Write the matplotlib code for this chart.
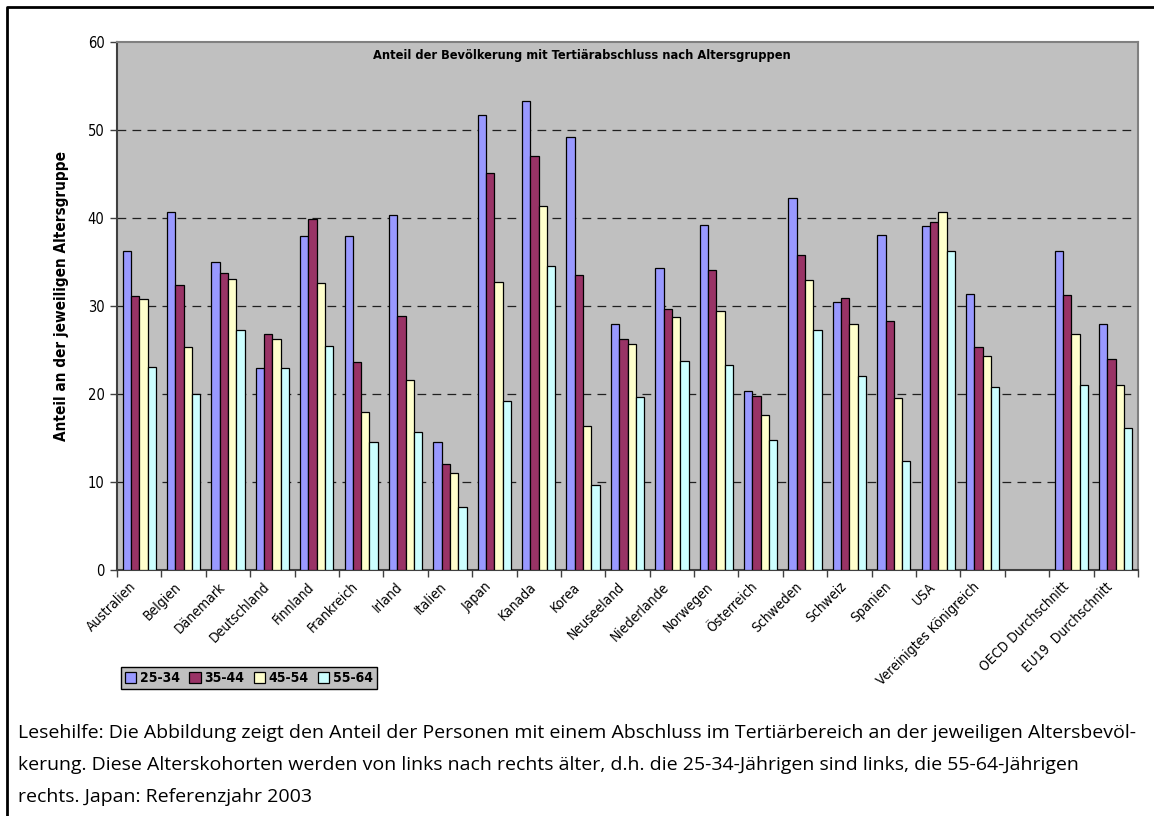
import matplotlib
matplotlib.use("Agg")
import matplotlib.pyplot as plt
import numpy as np
from matplotlib.transforms import ScaledTranslation
from matplotlib.lines import Line2D

# data
countries = ["Australien", "Belgien", "Dänemark", "Deutschland", "Finnland",
             "Frankreich", "Irland", "Italien", "Japan", "Kanada", "Korea",
             "Neuseeland", "Niederlande", "Norwegen", "Österreich", "Schweden",
             "Schweiz", "Spanien", "USA", "Vereinigtes Königreich",
             "OECD Durchschnitt", "EU19  Durchschnitt"]
slots = list(range(20)) + [21, 22]   # slot 20 stays empty
age_groups = ["25-34", "35-44", "45-54", "55-64"]

g25_34 = [36.2, 40.7, 35.0, 23.0, 38.0, 38.0, 40.3, 14.6, 51.7, 53.3, 49.2,
          28.0, 34.3, 39.2, 20.3, 42.3, 30.5, 38.1, 39.1, 31.4, 36.2, 28.0]
g35_44 = [31.1, 32.4, 33.8, 26.8, 39.9, 23.6, 28.9, 12.0, 45.1, 47.0, 33.5,
          26.2, 29.7, 34.1, 19.8, 35.8, 30.9, 28.3, 39.5, 25.3, 31.2, 24.0]
g45_54 = [30.8, 25.3, 33.1, 26.3, 32.6, 17.9, 21.6, 11.0, 32.7, 41.4, 16.4,
          25.7, 28.7, 29.4, 17.6, 33.0, 27.9, 19.5, 40.7, 24.3, 26.8, 21.0]
g55_64 = [23.1, 20.0, 27.3, 22.9, 25.4, 14.5, 15.7, 7.2, 19.2, 34.6, 9.7,
          19.7, 23.7, 23.3, 14.8, 27.3, 22.1, 12.4, 36.2, 20.8, 21.0, 16.1]
series = [g25_34, g35_44, g45_54, g55_64]
colors = ["#9999FF", "#993366", "#FFFFCC", "#CCFFFF"]

title = "Anteil der Bevölkerung mit Tertiärabschluss nach Altersgruppen"
ylabel = "Anteil an der jeweiligen Altersgruppe"
note_lines = [
    "Lesehilfe: Die Abbildung zeigt den Anteil der Personen mit einem Abschluss im Tertiärbereich an der jeweiligen Altersbevöl-",
    "kerung. Diese Alterskohorten werden von links nach rechts älter, d.h. die 25-34-Jährigen sind links, die 55-64-Jährigen",
    "rechts. Japan: Referenzjahr 2003",
]

narrow = ["Liberation Sans Narrow", "DejaVu Sans"]
W, H = 1154, 816
fig = plt.figure(figsize=(W / 100, H / 100), dpi=100)
ax = fig.add_axes([117 / W, 246 / H, 1021 / W, 528 / H])
ax.set_facecolor("#C0C0C0")

bw = 0.1875
x = np.array(slots) + 0.5
for k, (vals, col) in enumerate(zip(series, colors)):
    ax.bar(x + (k - 1.5) * bw, vals, width=bw, color=col, edgecolor="black",
           linewidth=0.9, zorder=3, label=age_groups[k])

for yv in range(10, 60, 10):
    ax.axhline(yv, color="#202020", lw=0.9, ls=(0, (7, 5)), zorder=1)

ax.set_xlim(0, 23)
ax.set_ylim(0, 60)
ax.set_yticks(range(0, 61, 10))
ax.tick_params(axis="y", direction="out", length=5, width=1, colors="#404040",
               labelcolor="black", labelsize=10.5, pad=4)
for t in ax.get_yticklabels():
    t.set_family(narrow)
    t.set_stretch("condensed")

ax.set_xticks(np.arange(0, 24), minor=True)
ax.set_xticks(x)
ax.set_xticklabels(countries, rotation=45, ha="right", va="top",
                   rotation_mode="anchor", fontsize=10, family=narrow,
                   fontstretch="condensed")
ax.tick_params(axis="x", which="major", length=0, pad=7)
ax.tick_params(axis="x", which="minor", direction="out", length=5, width=1,
               colors="#404040")
shift = ScaledTranslation(-10 / 100, 0, fig.dpi_scale_trans)
for t in ax.get_xticklabels():
    t.set_transform(t.get_transform() + shift)

for s in ["top", "right"]:
    ax.spines[s].set_color("#808080")
    ax.spines[s].set_linewidth(1.5)
for s in ["left", "bottom"]:
    ax.spines[s].set_color("#404040")
    ax.spines[s].set_linewidth(1.5)

fig.text(582 / W, 1 - 55 / H, title, ha="center", va="center",
         fontsize=9.2, fontweight="bold", family=narrow, fontstretch="condensed")
fig.text(62 / W, 1 - 296 / H, ylabel, rotation=90, ha="center", va="center",
         fontsize=11, fontweight="bold", family=narrow, fontstretch="condensed")

leg = fig.legend(loc="upper left", bbox_to_anchor=(121 / W, 1 - 667 / H),
                 ncol=4, frameon=True, fancybox=False, borderaxespad=0,
                 handlelength=0.8, handleheight=0.8, handletextpad=0.25,
                 columnspacing=0.7, borderpad=0.3,
                 prop={"family": narrow, "weight": "bold", "size": 10,
                       "stretch": "condensed"})
leg.get_frame().set_facecolor("#C0C0C0")
leg.get_frame().set_edgecolor("black")
leg.get_frame().set_linewidth(1.0)
leg.get_frame().set_alpha(1)

note_y = [738, 770, 802]
for line, yy in zip(note_lines, note_y):
    fig.text(18 / W, 1 - yy / H, line, ha="left", va="baseline",
             fontsize=14, family=["Open Sans", "DejaVu Sans"])

# outer frame, open to the right and bottom like the source
fig.add_artist(Line2D([7 / W, 7 / W, 1], [0, 1 - 7 / H, 1 - 7 / H],
                      transform=fig.transFigure, color="black", lw=2))

fig.savefig("out.png", dpi=100)
